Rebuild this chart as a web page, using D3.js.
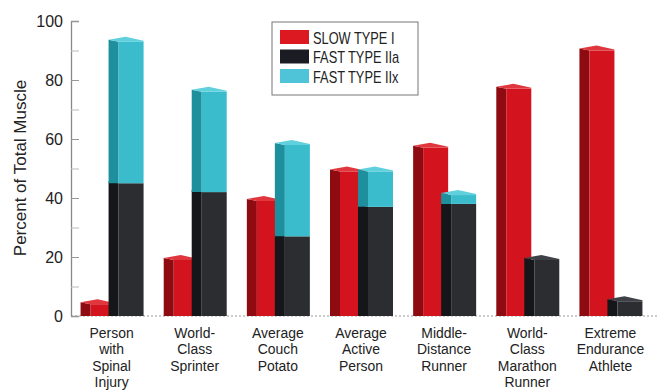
<html>
<head>
<title>Muscle fiber types</title>
<script src="https://cdnjs.cloudflare.com/ajax/libs/d3/7.8.5/d3.min.js"></script>
<style>
body { margin: 0; background: #fff; }
text { font-family: "Liberation Sans", Arial, sans-serif; fill: #222; }
</style>
</head>
<body>
<svg id="chart" width="657" height="390"></svg>
<script>
var categories = [
    ['Person', 'with', 'Spinal', 'Injury'],
    ['World-', 'Class', 'Sprinter'],
    ['Average', 'Couch', 'Potato'],
    ['Average', 'Active', 'Person'],
    ['Middle-', 'Distance', 'Runner'],
    ['World-', 'Class', 'Marathon', 'Runner'],
    ['Extreme', 'Endurance', 'Athlete']
];
var slowTypeI = [4, 19, 39, 49, 57, 77, 90];
var fastTypeIIa = [45, 42, 27, 37, 38, 19, 5];
var fastTypeIIx = [48, 34, 31, 12, 3, 0, 0];
var yTicks = [0, 20, 40, 60, 80, 100];
var seriesNames = ['SLOW TYPE I', 'FAST TYPE IIa', 'FAST TYPE IIx'];

var colors = {
    red: { front: '#d3131d', side: '#8e0b12', top: '#e0363d', swatch: '#dc1820' },
    black: { front: '#2b2d31', side: '#141619', top: '#3e4146', swatch: '#1b1b24' },
    cyan: { front: '#3bbccc', side: '#1e8f9c', top: '#5fd0dc', swatch: '#4fc4d8' }
};

var svg = d3.select('#chart');
var keys = d3.range(categories.length);

var x = d3.scaleBand().domain(keys).range([70, 652]);
var y = d3.scaleLinear().domain([0, 100]).range([316, 21]);

// baseline
svg.append('line')
    .attr('x1', 71).attr('x2', 657)
    .attr('y1', y(0)).attr('y2', y(0))
    .attr('stroke', '#999').attr('stroke-width', 1.2)
    .attr('stroke-dasharray', '2,2');

// axis, ticks point inward
var axis = d3.axisRight(y).tickValues(d3.range(0, 101, 10)).tickSize(8).tickFormat('');
var axisG = svg.append('g').attr('transform', 'translate(71,0)').call(axis);
axisG.select('.domain').attr('stroke', '#888').attr('stroke-width', 1.3);
axisG.selectAll('.tick line').attr('stroke', function (d) { return d % 20 === 0 ? '#999' : '#bbb'; });

svg.append('g').selectAll('text')
    .data(yTicks).enter().append('text')
    .attr('x', 63).attr('y', function (d) { return y(d) + 6; })
    .attr('text-anchor', 'end')
    .style('font-size', '16px')
    .text(function (d) { return d; });

svg.append('text')
    .attr('transform', 'translate(26,168) rotate(-90)')
    .attr('text-anchor', 'middle')
    .style('font-size', '17px')
    .text('Percent of Total Muscle');

// one 3d column segment
var side = 10;
function segment(g, x0, x1, v0, v1, c, cap) {
    var yb = y(v0), yt = y(v1);
    g.append('polygon')
        .attr('points', [[x0, yb], [x0 + side, yb], [x0 + side, yt], [x0, yt - 2]].join(' '))
        .attr('fill', c.side);
    g.append('rect')
        .attr('x', x0 + side).attr('y', yt)
        .attr('width', x1 - x0 - side).attr('height', yb - yt)
        .attr('fill', c.front);
    if (cap) {
        g.append('polygon')
            .attr('points', [[x0, yt - 2], [x0 + side + 7, yt - 5], [x1, yt - 1], [x1, yt], [x0 + side, yt]].join(' '))
            .attr('fill', c.top);
    }
}

var bars = svg.append('g');
keys.forEach(function (i) {
    var c = x(i) + x.bandwidth() / 2;
    var g = bars.append('g');
    segment(g, c - 31, c + 4, 0, slowTypeI[i], colors.red, true);
    var hasX = fastTypeIIx[i] > 0;
    segment(g, c - 3, c + 32, 0, fastTypeIIa[i], colors.black, !hasX);
    if (hasX) {
        segment(g, c - 3, c + 32, fastTypeIIa[i], fastTypeIIa[i] + fastTypeIIx[i], colors.cyan, true);
    }
});

// category labels
var lab = svg.append('g');
keys.forEach(function (i) {
    var cx = x(i) + x.bandwidth() / 2;
    categories[i].forEach(function (line, k) {
        lab.append('text')
            .attr('text-anchor', 'middle')
            .attr('transform', 'translate(' + cx + ',' + (338 + k * 16.3) + ') scale(0.93,1)')
            .style('font-size', '15px')
            .text(line);
    });
});

// legend
var leg = svg.append('g');
leg.append('rect')
    .attr('x', 272).attr('y', 22).attr('width', 146).attr('height', 73)
    .attr('fill', '#fff').attr('stroke', '#777').attr('stroke-width', 1);
var swatches = [colors.red.swatch, colors.black.swatch, colors.cyan.swatch];
seriesNames.forEach(function (name, k) {
    leg.append('rect')
        .attr('x', 280).attr('y', 30 + k * 19.5).attr('width', 29).attr('height', 14)
        .attr('fill', swatches[k]);
    leg.append('text')
        .attr('transform', 'translate(313,' + (43.5 + k * 19.5) + ') scale(0.8,1)')
        .style('font-size', '16px')
        .text(name);
});
</script>
</body>
</html>
